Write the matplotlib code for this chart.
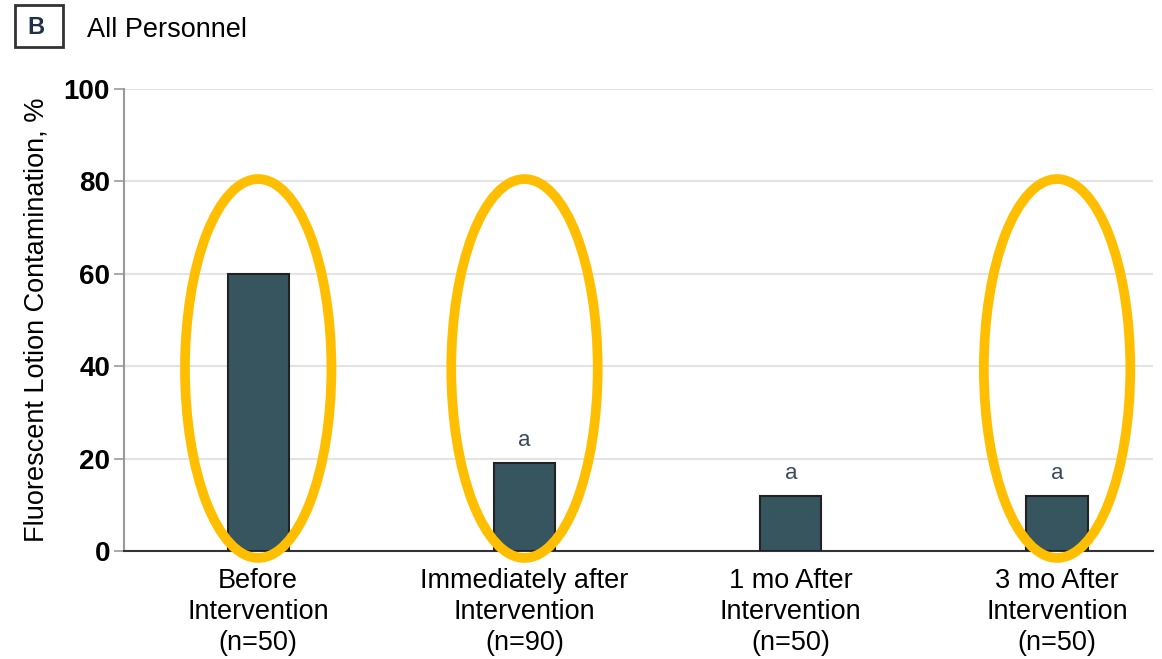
import numpy as np
import matplotlib
matplotlib.use('Agg')
import matplotlib.pyplot as plt
from matplotlib.patches import Ellipse, Rectangle

plt.rcParams['font.family'] = ['Liberation Sans', 'DejaVu Sans']

categories = ['Before\nIntervention\n(n=50)',
              'Immediately after\nIntervention\n(n=90)',
              '1 mo After\nIntervention\n(n=50)',
              '3 mo After\nIntervention\n(n=50)']
values = [60, 19, 12, 12]
marks = ['', 'a', 'a', 'a']
circled = [True, True, False, True]
yticks = [0, 20, 40, 60, 80, 100]

BAR_COLOR = '#37555f'
RING_COLOR = '#ffbf00'

fig = plt.figure(figsize=(11.62, 6.59), dpi=100)
ax = fig.add_axes([0.1067, 0.1639, 0.8855, 0.7011])

x = np.arange(len(values))
ax.bar(x, values, width=0.23, color=BAR_COLOR, edgecolor='#222222',
       linewidth=1.5, zorder=3)

for xi, v, m in zip(x, values, marks):
    if m:
        ax.text(xi, v + 2.6, m, ha='center', va='bottom', fontsize=16,
                color='#3b4a5c', zorder=4)

# yellow highlight rings
for xi, c in zip(x, circled):
    if c:
        ax.add_patch(Ellipse((xi, 39.5), 0.55, 82, fill=False,
                             edgecolor=RING_COLOR, linewidth=7,
                             zorder=5, clip_on=False))

ax.set_xlim(-0.504, 3.36)
ax.set_ylim(0, 100)
ax.set_yticks(yticks)
ax.set_yticklabels([str(t) for t in yticks], fontsize=20, fontweight='bold')
ax.set_xticks(x)
ax.set_xticklabels(categories, fontsize=19.5, linespacing=1.25)
ax.tick_params(axis='x', length=0, pad=12)
ax.tick_params(axis='y', length=7, width=1.2, color='#999999', pad=3)

ax.yaxis.grid(True, color='#e3e3e3', linewidth=1.5, zorder=0)
ax.set_axisbelow(True)
for s in ['top', 'right']:
    ax.spines[s].set_visible(False)
ax.spines['left'].set_color('#999999')
ax.spines['left'].set_linewidth(1.5)
ax.spines['bottom'].set_color('#333333')
ax.spines['bottom'].set_linewidth(1.5)

ax.set_ylabel('Fluorescent Lotion Contamination, %', fontsize=19.5,
              labelpad=10)

# panel label
fig.patches.append(Rectangle((15 / 1162, 1 - 47 / 659), 48 / 1162, 42 / 659,
                             transform=fig.transFigure, fill=False,
                             edgecolor='#333333', linewidth=2))
fig.text(36 / 1162, 1 - 27 / 659, 'B', ha='center', va='center',
         fontsize=17, fontweight='bold', color='#22304a')
fig.text(87 / 1162, 1 - 30 / 659, 'All Personnel', ha='left', va='center',
         fontsize=19.5)

fig.savefig('out.png', dpi=100)
